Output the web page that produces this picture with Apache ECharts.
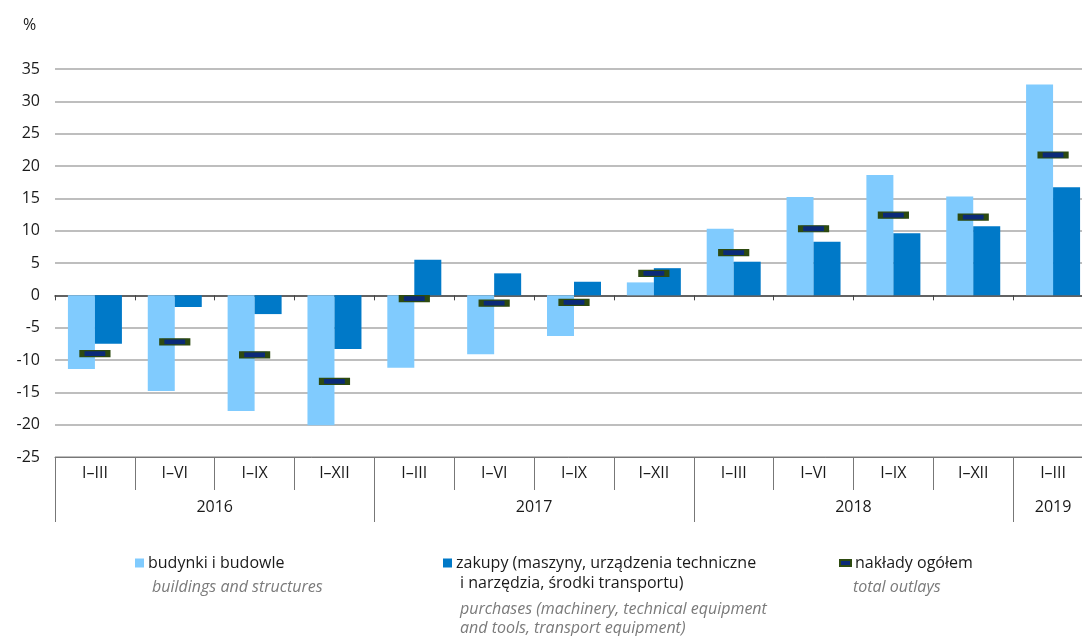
<!DOCTYPE html>
<html><head><meta charset="utf-8">
<script src="https://cdn.jsdelivr.net/npm/echarts@6/dist/echarts.min.js"></script>
<style>html,body{margin:0;padding:0;background:#fff;overflow:hidden}#c{width:1082px;height:636px}</style>
</head><body><div id="c"></div>
<script>
const categories = ['I–III','I–VI','I–IX','I–XII','I–III','I–VI','I–IX','I–XII','I–III','I–VI','I–IX','I–XII','I–III'];
const years = ['2016','2017','2018','2019'];
const yearGroups = [4,4,4,1];
const buildings = [-11.4,-14.8,-17.9,-20.1,-11.2,-9.1,-6.3,2.0,10.3,15.2,18.6,15.3,32.6];
const purchases = [-7.5,-1.8,-2.9,-8.3,5.5,3.4,2.1,4.2,5.2,8.3,9.6,10.7,16.7];
const total = [-9.0,-7.2,-9.2,-13.3,-0.5,-1.2,-1.1,3.4,6.6,10.3,12.4,12.1,21.7];
const yTicks = {min:-25, max:35, interval:5};
const names = ['budynki i budowle','zakupy (maszyny, urządzenia techniczne i narzędzia, środki transportu)','nakłady ogółem'];
const legendFirstLines = ['budynki i budowle','zakupy (maszyny, urządzenia techniczne','nakłady ogółem'];

const FONT = 'Open Sans';
const yearBounds = [0]; yearGroups.forEach(g => yearBounds.push(yearBounds[yearBounds.length-1]+g));
const yearMids = yearGroups.map((g,i) => yearBounds[i] + g/2);

const chart = echarts.init(document.getElementById('c'));
chart.setOption({
  animation:false,
  textStyle:{fontFamily:FONT},
  title:[
    {text:'%', left:18, top:12, textStyle:{fontFamily:FONT,fontSize:16,fontWeight:'normal',color:'#1a1a1a'}},
    {text:'buildings and structures', left:147, top:574, textStyle:{fontFamily:FONT,fontSize:16,fontWeight:'normal',fontStyle:'italic',color:'#7a7a7a'}},
    {text:'i narzędzia, środki transportu)', left:455, top:570, textStyle:{fontFamily:FONT,fontSize:16,fontWeight:'normal',color:'#1a1a1a'}},
    {text:'purchases (machinery, technical equipment', left:455, top:596, textStyle:{fontFamily:FONT,fontSize:16,fontWeight:'normal',fontStyle:'italic',color:'#7a7a7a'}},
    {text:'and tools, transport equipment)', left:455, top:615, textStyle:{fontFamily:FONT,fontSize:16,fontWeight:'normal',fontStyle:'italic',color:'#7a7a7a'}},
    {text:'total outlays', left:848, top:574, textStyle:{fontFamily:FONT,fontSize:16,fontWeight:'normal',fontStyle:'italic',color:'#7a7a7a'}}
  ],
  legend:[
    {data:[names[0]], left:130, top:550, icon:'rect', itemWidth:9, itemHeight:9, itemGap:0,
     formatter:()=>legendFirstLines[0], textStyle:{fontFamily:FONT,fontSize:16,color:'#1a1a1a',padding:[0,0,0,-1]}},
    {data:[names[1]], left:438, top:550, icon:'rect', itemWidth:9, itemHeight:9, itemGap:0,
     formatter:()=>legendFirstLines[1], textStyle:{fontFamily:FONT,fontSize:16,color:'#1a1a1a',padding:[0,0,0,-1]}},
    {data:[names[2]], left:834, top:550, icon:'rect', itemWidth:11, itemHeight:6, itemGap:0,
     formatter:()=>legendFirstLines[2], textStyle:{fontFamily:FONT,fontSize:16,color:'#1a1a1a',padding:[0,0,0,-1]}}
  ],
  grid:{left:55, right:-11, top:69, bottom:179, containLabel:false, outerBoundsMode:'none'},
  xAxis:[
    {type:'category', data:categories, position:'bottom',
     axisLine:{show:true,onZero:true,lineStyle:{color:'#444',width:1.5}},
     axisTick:{show:true,length:5,lineStyle:{color:'#444'}},
     axisLabel:{show:false}, splitLine:{show:false}},
    {type:'category', data:categories, position:'bottom',
     axisLine:{show:true,onZero:false,lineStyle:{color:'#777',width:1}},
     axisTick:{show:true,length:33,lineStyle:{color:'#777'}},
     axisLabel:{show:true,fontSize:16,color:'#1a1a1a',margin:8,fontFamily:FONT}, splitLine:{show:false}},
    {type:'value', min:0, max:categories.length, position:'bottom', offset:33,
     axisLine:{show:false,onZero:false},
     axisTick:{show:true,length:32,customValues:yearBounds,lineStyle:{color:'#777'}},
     axisLabel:{show:true,customValues:yearMids,fontSize:16,color:'#1a1a1a',margin:9,fontFamily:FONT,
       formatter:v=>{const i=yearMids.findIndex(m=>Math.abs(m-v)<1e-6);return i>=0?years[i]:'';}},
     splitLine:{show:false}}
  ],
  yAxis:{type:'value', min:yTicks.min, max:yTicks.max, interval:yTicks.interval,
    axisLine:{show:false}, axisTick:{show:false},
    axisLabel:{fontSize:16,color:'#1a1a1a',margin:15,fontFamily:FONT},
    splitLine:{show:true,lineStyle:{color:'#a8a8a8',width:1.5}}},
  series:[
    {name:names[0], type:'bar', xAxisIndex:0, data:buildings, barWidth:27, barGap:'0%',
     itemStyle:{color:'#80cbfe'}},
    {name:names[1], type:'bar', xAxisIndex:0, data:purchases, barWidth:27, barGap:'0%',
     itemStyle:{color:'#0079c8'}},
    {name:names[2], type:'scatter', xAxisIndex:0, data:total, symbol:'rect', symbolSize:[26,6], z:5,
     itemStyle:{color:'#0b2a78',borderColor:'#2d4a10',borderWidth:2.5,opacity:1}}
  ]
});
</script></body></html>
